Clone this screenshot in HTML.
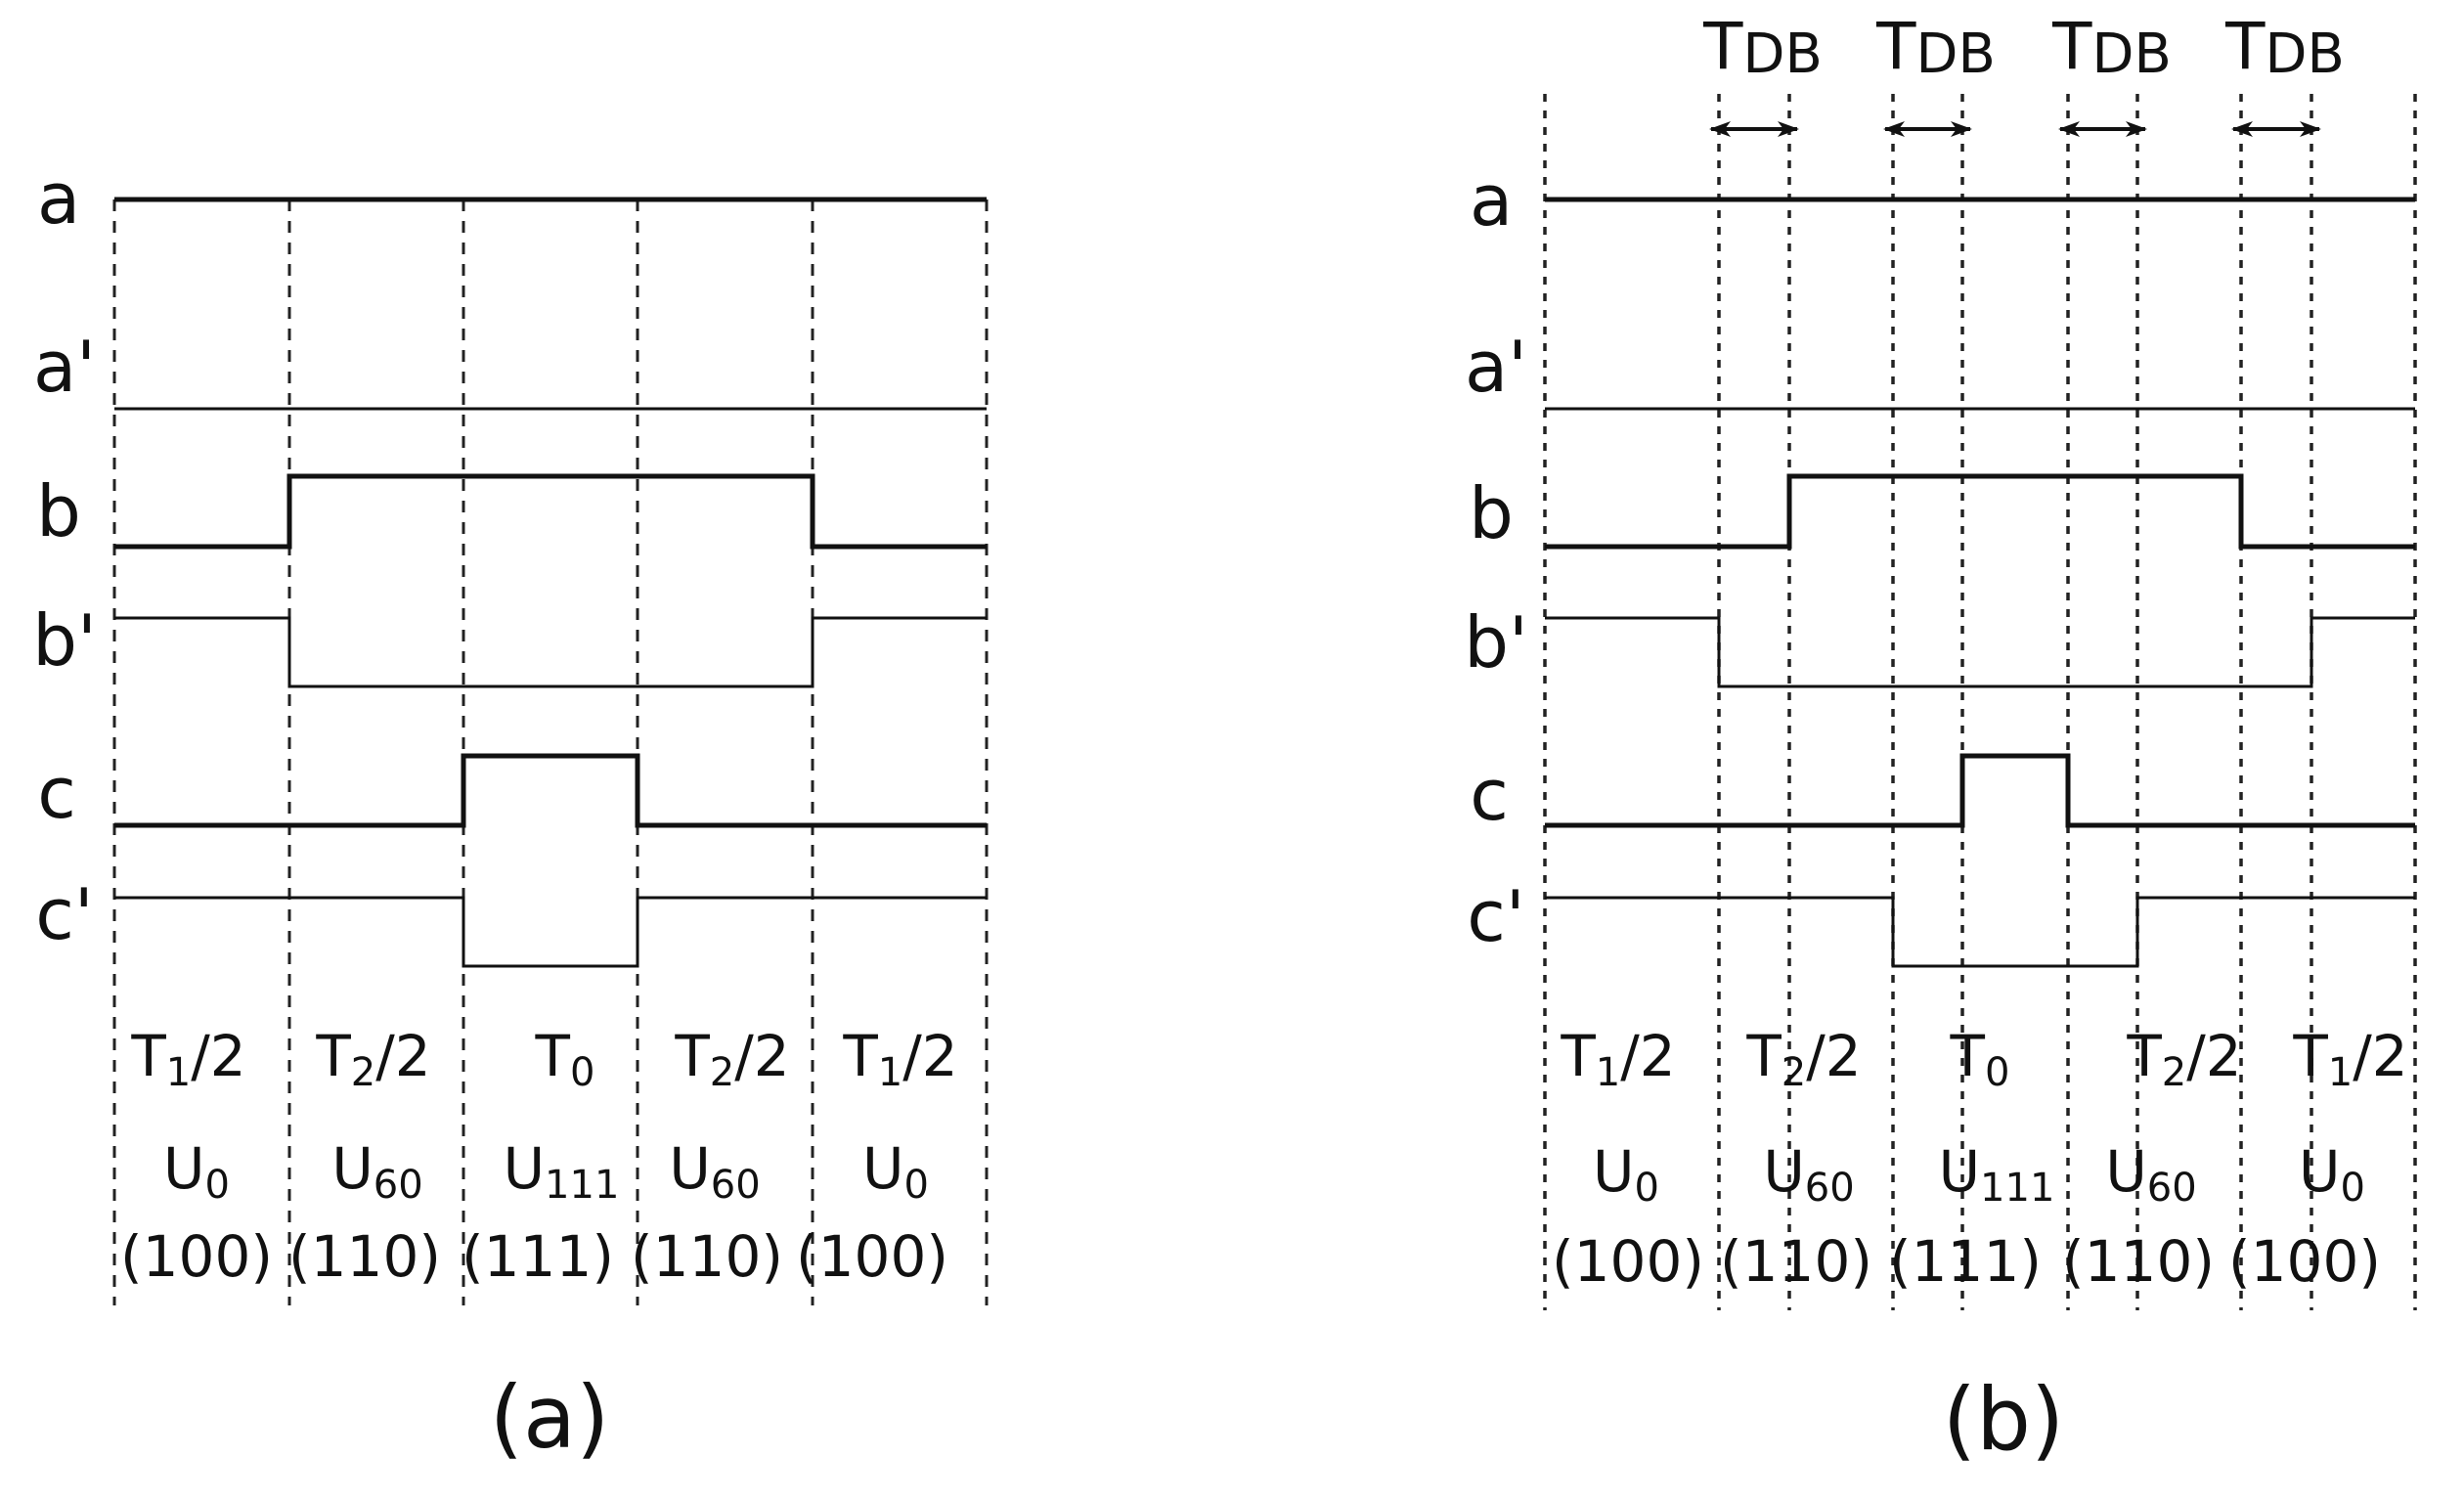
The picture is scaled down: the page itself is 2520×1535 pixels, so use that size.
<!DOCTYPE html>
<html><head><meta charset="utf-8"><style>
html,body{margin:0;padding:0;background:#fff;}
svg{display:block;}
text{font-family:"DejaVu Sans","Liberation Sans",sans-serif;fill:#111;}
</style></head><body>
<svg width="2520" height="1535" viewBox="0 0 2520 1535" xmlns="http://www.w3.org/2000/svg">
<defs>
<marker id="ah" markerWidth="22" markerHeight="16" refX="20" refY="8" orient="auto-start-reverse" markerUnits="userSpaceOnUse"><path d="M0,0 L22,8 L0,16 L6,8 Z" fill="#111"/></marker>
</defs>
<g stroke="#222" stroke-width="3" stroke-dasharray="12,10">
<line x1="117" y1="204" x2="117" y2="1335"/>
<line x1="296" y1="204" x2="296" y2="1335"/>
<line x1="474" y1="204" x2="474" y2="1335"/>
<line x1="652" y1="204" x2="652" y2="1335"/>
<line x1="831" y1="204" x2="831" y2="1335"/>
<line x1="1009" y1="204" x2="1009" y2="1335"/>
</g>
<g fill="none" stroke="#111" stroke-linejoin="miter">
<polyline stroke-width="5" points="117,204 1009,204"/>
<polyline stroke-width="3" points="117,418 1009,418"/>
<polyline stroke-width="5" points="117,559 296,559 296,487 831,487 831,559 1009,559"/>
<polyline stroke-width="3" points="117,632 296,632 296,702 831,702 831,632 1009,632"/>
<polyline stroke-width="5" points="117,844 474,844 474,773 652,773 652,844 1009,844"/>
<polyline stroke-width="3" points="117,918 474,918 474,988 652,988 652,918 1009,918"/>
</g>
<g font-size="72" text-anchor="middle">
<text x="60" y="228">a</text>
<text x="66" y="400">a'</text>
<text x="60" y="548">b</text>
<text x="66" y="680">b'</text>
<text x="58" y="836">c</text>
<text x="66" y="960">c'</text>
</g>
<g stroke="#222" stroke-width="3.5" stroke-dasharray="8,9">
<line x1="1580" y1="96" x2="1580" y2="1340"/>
<line x1="1758" y1="96" x2="1758" y2="1340"/>
<line x1="1830" y1="96" x2="1830" y2="1340"/>
<line x1="1936" y1="96" x2="1936" y2="1340"/>
<line x1="2007" y1="96" x2="2007" y2="1340"/>
<line x1="2115" y1="96" x2="2115" y2="1340"/>
<line x1="2186" y1="96" x2="2186" y2="1340"/>
<line x1="2292" y1="96" x2="2292" y2="1340"/>
<line x1="2364" y1="96" x2="2364" y2="1340"/>
<line x1="2470" y1="96" x2="2470" y2="1340"/>
</g>
<g fill="none" stroke="#111">
<polyline stroke-width="5" points="1580,204 2470,204"/>
<polyline stroke-width="3" points="1580,418 2470,418"/>
<polyline stroke-width="5" points="1580,559 1830,559 1830,487 2292,487 2292,559 2470,559"/>
<polyline stroke-width="3" points="1580,632 1758,632 1758,702 2364,702 2364,632 2470,632"/>
<polyline stroke-width="5" points="1580,844 2007,844 2007,773 2115,773 2115,844 2470,844"/>
<polyline stroke-width="3" points="1580,918 1936,918 1936,988 2186,988 2186,918 2470,918"/>
</g>
<g stroke="#111" stroke-width="4" marker-start="url(#ah)" marker-end="url(#ah)">
<line x1="1750" y1="132" x2="1838" y2="132"/>
<line x1="1928" y1="132" x2="2015" y2="132"/>
<line x1="2107" y1="132" x2="2194" y2="132"/>
<line x1="2284" y1="132" x2="2372" y2="132"/>
</g>
<g font-size="66" text-anchor="middle">
<text x="1803" y="70">T<tspan font-size="56" dy="4">DB</tspan></text>
<text x="1980" y="70">T<tspan font-size="56" dy="4">DB</tspan></text>
<text x="2160" y="70">T<tspan font-size="56" dy="4">DB</tspan></text>
<text x="2337" y="70">T<tspan font-size="56" dy="4">DB</tspan></text>
</g>
<g font-size="72" text-anchor="middle">
<text x="1525" y="230">a</text>
<text x="1530" y="400">a'</text>
<text x="1525" y="550">b</text>
<text x="1530" y="682">b'</text>
<text x="1523" y="838">c</text>
<text x="1530" y="962">c'</text>
</g>
<g font-size="58" text-anchor="middle">
<text x="193" y="1100">T<tspan font-size="40" dy="10">1</tspan><tspan dy="-10">/2</tspan></text>
<text x="382" y="1100">T<tspan font-size="40" dy="10">2</tspan><tspan dy="-10">/2</tspan></text>
<text x="578" y="1100">T<tspan font-size="40" dy="10">0</tspan></text>
<text x="749" y="1100">T<tspan font-size="40" dy="10">2</tspan><tspan dy="-10">/2</tspan></text>
<text x="921" y="1100">T<tspan font-size="40" dy="10">1</tspan><tspan dy="-10">/2</tspan></text>
<text x="201" y="1215">U<tspan font-size="40" dy="10">0</tspan></text>
<text x="386" y="1215">U<tspan font-size="40" dy="10">60</tspan></text>
<text x="574" y="1215">U<tspan font-size="40" dy="10">111</tspan></text>
<text x="731" y="1215">U<tspan font-size="40" dy="10">60</tspan></text>
<text x="916" y="1215">U<tspan font-size="40" dy="10">0</tspan></text>
<text x="201" y="1305">(100)</text>
<text x="373" y="1305">(110)</text>
<text x="550" y="1305">(111)</text>
<text x="723" y="1305">(110)</text>
<text x="892" y="1305">(100)</text>
<text x="1655" y="1100">T<tspan font-size="40" dy="10">1</tspan><tspan dy="-10">/2</tspan></text>
<text x="1845" y="1100">T<tspan font-size="40" dy="10">2</tspan><tspan dy="-10">/2</tspan></text>
<text x="2025" y="1100">T<tspan font-size="40" dy="10">0</tspan></text>
<text x="2234" y="1100">T<tspan font-size="40" dy="10">2</tspan><tspan dy="-10">/2</tspan></text>
<text x="2404" y="1100">T<tspan font-size="40" dy="10">1</tspan><tspan dy="-10">/2</tspan></text>
<text x="1663" y="1218">U<tspan font-size="40" dy="10">0</tspan></text>
<text x="1850" y="1218">U<tspan font-size="40" dy="10">60</tspan></text>
<text x="2042" y="1218">U<tspan font-size="40" dy="10">111</tspan></text>
<text x="2200" y="1218">U<tspan font-size="40" dy="10">60</tspan></text>
<text x="2385" y="1218">U<tspan font-size="40" dy="10">0</tspan></text>
<text x="1665" y="1310">(100)</text>
<text x="1837" y="1310">(110)</text>
<text x="2010" y="1310">(111)</text>
<text x="2187" y="1310">(110)</text>
<text x="2357" y="1310">(100)</text>
</g>
<g font-size="88" text-anchor="middle">
<text x="562" y="1480">(a)</text>
<text x="2049" y="1482">(b)</text>
</g>
</svg>
</body></html>
